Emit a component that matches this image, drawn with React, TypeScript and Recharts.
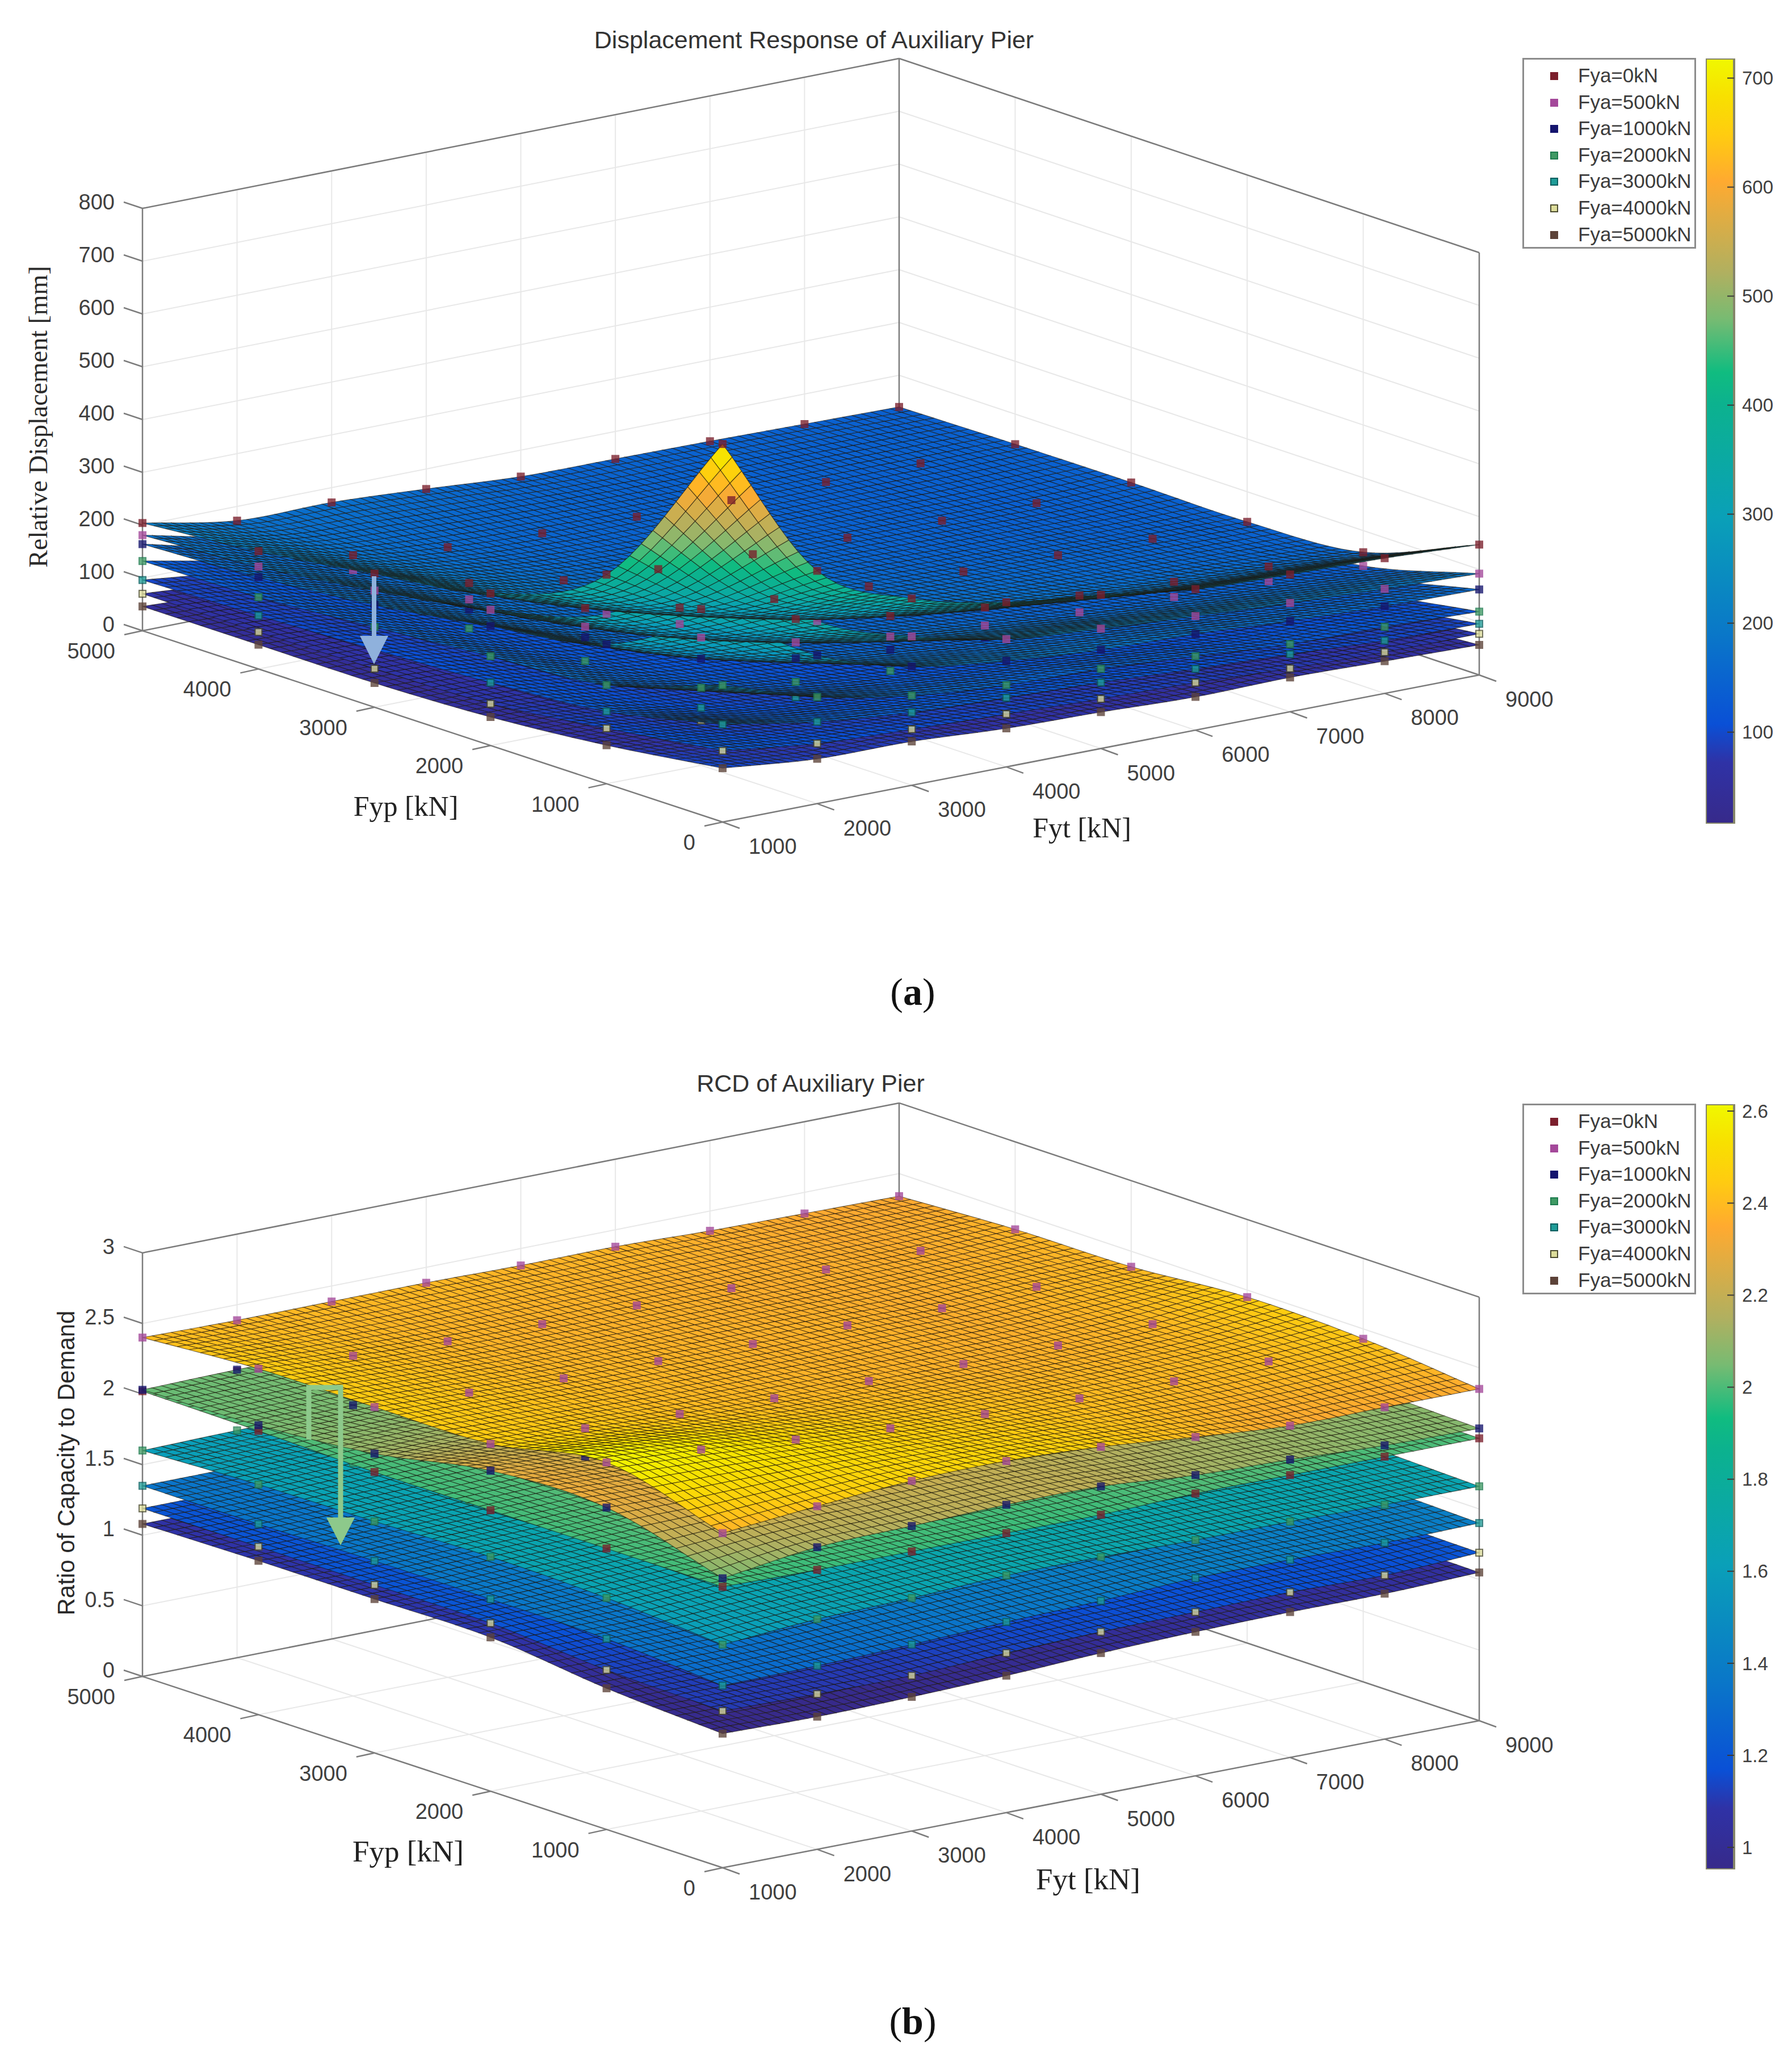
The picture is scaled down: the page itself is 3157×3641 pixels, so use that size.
import React from 'react';
import {
  Bar,
  BarChart,
  Legend,
  ReferenceLine,
  Scatter,
  ScatterChart,
  XAxis,
  YAxis,
} from 'recharts';

// grid of the study
const fytValues = [1000, 2000, 3000, 4000, 5000, 6000, 7000, 8000, 9000];
const fypValues = [0, 1000, 2000, 3000, 4000, 5000];
const fyaLabels = ['Fya=0kN', 'Fya=500kN', 'Fya=1000kN', 'Fya=2000kN', 'Fya=3000kN', 'Fya=4000kN', 'Fya=5000kN'];

// (a) relative displacement [mm], one row per Fyp, one column per Fyt
const dispFya0 = [
  [716, 441, 354, 312, 291, 267, 260, 256, 247],
  [396, 296, 242, 213, 194, 182, 173, 167, 159],
  [288, 225, 191, 172, 161, 154, 150, 146, 143],
  [253, 200, 170, 156, 149, 145, 142, 140, 144],
  [223, 180, 160, 151, 147, 143, 142, 142, 143],
  [204, 173, 172, 162, 150, 148, 146, 143, 140],
];
const dispFya500 = [
  [494, 346, 282, 242, 227, 216, 206, 198, 192],
  [322, 242, 198, 174, 160, 150, 144, 139, 133],
  [257, 190, 160, 144, 135, 128, 124, 122, 118],
  [221, 169, 143, 131, 122, 118, 114, 113, 113],
  [194, 152, 132, 122, 115, 110, 109, 108, 110],
  [181, 143, 128, 117, 110, 107, 106, 106, 107],
];
const dispFya1000 = [
  [389, 281, 225, 201, 187, 182, 172, 165, 162],
  [264, 202, 168, 149, 137, 128, 123, 117, 114],
  [226, 170, 142, 125, 116, 109, 105, 102, 101],
  [194, 150, 126, 114, 105, 100, 96, 94, 95],
  [174, 133, 113, 103, 97, 93, 92, 90, 92],
  [164, 123, 108, 97, 91, 89, 88, 87, 87],
];
const dispFya2000 = [
  [259, 202, 170, 155, 151, 140, 128, 126, 120],
  [187, 147, 123, 109, 101, 95, 91, 89, 87],
  [169, 125, 106, 95, 89, 84, 81, 80, 80],
  [152, 114, 97, 86, 80, 77, 75, 75, 75],
  [136, 105, 90, 80, 76, 73, 72, 71, 73],
  [132, 99, 84, 75, 70, 69, 69, 69, 69],
];
const dispFya3000 = [
  [185, 155, 138, 131, 125, 116, 109, 100, 97],
  [137, 109, 94, 87, 81, 76, 71, 67, 66],
  [119, 95, 81, 75, 70, 66, 63, 62, 62],
  [109, 87, 75, 68, 63, 60, 59, 58, 59],
  [101, 79, 69, 63, 60, 57, 57, 56, 58],
  [96, 77, 66, 60, 57, 56, 56, 57, 57],
];
const dispFya4000 = [
  [135, 114, 106, 100, 94, 90, 82, 78, 78],
  [105, 85, 74, 69, 64, 60, 57, 55, 55],
  [79, 70, 63, 59, 56, 53, 51, 51, 52],
  [73, 65, 57, 53, 49, 47, 47, 47, 48],
  [70, 60, 54, 50, 48, 46, 46, 46, 48],
  [70, 58, 53, 49, 47, 47, 47, 48, 49],
];
const dispFya5000 = [
  [102, 85, 83, 73, 69, 63, 65, 61, 57],
  [73, 65, 58, 54, 50, 47, 45, 43, 42],
  [54, 50, 46, 44, 42, 40, 38, 38, 38],
  [46, 43, 40, 38, 35, 34, 34, 35, 36],
  [46, 40, 38, 35, 35, 33, 35, 36, 38],
  [46, 39, 36, 35, 34, 35, 37, 40, 42],
];

// (b) ratio of capacity to demand
const rcdFya0 = [
  [1.99, 1.98, 1.98, 1.98, 1.98, 2.0, 2.0, 2.0, 2.0],
  [1.99, 2.01, 2.01, 2.01, 2.02, 2.02, 2.02, 2.01, 2.01],
  [1.99, 2.01, 2.02, 2.02, 2.02, 2.02, 2.01, 2.01, 2.0],
  [1.99, 2.01, 2.02, 2.02, 2.02, 2.01, 2.01, 2.0, 2.0],
  [2.01, 2.02, 2.03, 2.02, 2.02, 2.01, 2.01, 2.0, 2.0],
  [2.02, 2.03, 2.03, 2.02, 2.02, 2.01, 2.0, 1.99, 1.99],
];
const rcdFya500 = [
  [2.37, 2.43, 2.48, 2.49, 2.46, 2.4, 2.35, 2.35, 2.35],
  [2.6, 2.56, 2.5, 2.45, 2.42, 2.4, 2.39, 2.4, 2.43],
  [2.46, 2.44, 2.41, 2.39, 2.38, 2.37, 2.37, 2.39, 2.45],
  [2.45, 2.42, 2.39, 2.38, 2.37, 2.37, 2.36, 2.38, 2.39],
  [2.45, 2.41, 2.38, 2.37, 2.37, 2.36, 2.36, 2.36, 2.38],
  [2.4, 2.39, 2.39, 2.39, 2.38, 2.38, 2.36, 2.35, 2.34],
];
const rcdFya1000 = [
  [2.05, 2.14, 2.16, 2.18, 2.18, 2.13, 2.11, 2.08, 2.07],
  [2.28, 2.26, 2.23, 2.21, 2.18, 2.16, 2.13, 2.11, 2.09],
  [2.27, 2.24, 2.2, 2.17, 2.15, 2.13, 2.11, 2.1, 2.09],
  [2.12, 2.13, 2.12, 2.1, 2.1, 2.09, 2.08, 2.07, 2.05],
  [2.05, 2.06, 2.07, 2.06, 2.05, 2.05, 2.04, 2.03, 2.01],
  [2.03, 2.04, 2.04, 2.04, 2.03, 2.02, 2.0, 1.98, 1.96],
];
const rcdFya2000 = [
  [1.58, 1.63, 1.65, 1.68, 1.68, 1.67, 1.67, 1.66, 1.66],
  [1.64, 1.67, 1.69, 1.7, 1.7, 1.7, 1.69, 1.68, 1.68],
  [1.66, 1.68, 1.7, 1.7, 1.7, 1.69, 1.68, 1.68, 1.68],
  [1.64, 1.66, 1.67, 1.67, 1.67, 1.66, 1.66, 1.66, 1.67],
  [1.63, 1.65, 1.65, 1.65, 1.65, 1.64, 1.63, 1.63, 1.63],
  [1.6, 1.61, 1.61, 1.6, 1.6, 1.6, 1.59, 1.59, 1.6],
];
const rcdFya3000 = [
  [1.29, 1.3, 1.32, 1.35, 1.37, 1.4, 1.4, 1.39, 1.4],
  [1.35, 1.35, 1.38, 1.4, 1.41, 1.42, 1.42, 1.42, 1.42],
  [1.36, 1.38, 1.4, 1.41, 1.42, 1.42, 1.42, 1.42, 1.42],
  [1.36, 1.38, 1.39, 1.4, 1.4, 1.4, 1.4, 1.4, 1.41],
  [1.35, 1.36, 1.37, 1.37, 1.37, 1.37, 1.37, 1.37, 1.38],
  [1.35, 1.35, 1.35, 1.35, 1.35, 1.35, 1.35, 1.35, 1.36],
];
const rcdFya4000 = [
  [1.11, 1.1, 1.1, 1.13, 1.15, 1.16, 1.17, 1.16, 1.19],
  [1.13, 1.13, 1.15, 1.17, 1.18, 1.19, 1.2, 1.2, 1.2],
  [1.19, 1.19, 1.2, 1.2, 1.21, 1.21, 1.21, 1.21, 1.21],
  [1.19, 1.19, 1.19, 1.2, 1.2, 1.2, 1.2, 1.2, 1.21],
  [1.19, 1.19, 1.19, 1.19, 1.19, 1.19, 1.19, 1.19, 1.2],
  [1.19, 1.19, 1.19, 1.19, 1.19, 1.19, 1.19, 1.19, 1.2],
];
const rcdFya5000 = [
  [0.95, 0.94, 0.95, 0.97, 1.0, 1.02, 1.03, 1.03, 1.05],
  [1.0, 1.0, 1.02, 1.03, 1.04, 1.05, 1.06, 1.06, 1.06],
  [1.09, 1.08, 1.08, 1.08, 1.08, 1.08, 1.08, 1.08, 1.08],
  [1.09, 1.09, 1.09, 1.09, 1.09, 1.09, 1.09, 1.09, 1.09],
  [1.09, 1.08, 1.08, 1.08, 1.08, 1.08, 1.08, 1.08, 1.09],
  [1.08, 1.08, 1.08, 1.08, 1.07, 1.07, 1.07, 1.07, 1.08],
];

const dispSurfaces = [dispFya0, dispFya500, dispFya1000, dispFya2000, dispFya3000, dispFya4000, dispFya5000];
const rcdSurfaces = [rcdFya0, rcdFya500, rcdFya1000, rcdFya2000, rcdFya3000, rcdFya4000, rcdFya5000];

const dispZTicks = [0, 100, 200, 300, 400, 500, 600, 700, 800];
const rcdZTicks = [0, 0.5, 1, 1.5, 2, 2.5, 3];
const dispBarTicks = [100, 200, 300, 400, 500, 600, 700];
const rcdBarTicks = [1, 1.2, 1.4, 1.6, 1.8, 2, 2.2, 2.4, 2.6];

const mapStops = [0, 0.08, 0.13, 0.25, 0.4, 0.55, 0.59, 0.66, 0.72, 0.84, 0.9, 0.95, 1];
const mapColors = ['#372a8a', '#2f32a6', '#0a50d6', '#0a78c8', '#0aa0b8', '#0cb28e', '#10bc80', '#78bb72', '#b0b060', '#ffaa30', '#ffcc10', '#f8e000', '#f0f800'];

const markerColors = ['#7b1f2c', '#a4489a', '#15156e', '#3f9a64', '#1f9c98', '#dcdc9a', '#5c4238'];
const markerEdges = ['#7b1f2c', '#a4489a', '#15156e', '#1f7c50', '#0a5f60', '#4c4c30', '#5c4238'];

const hexToRgb = (hex: string) => [1, 3, 5].map((i) => parseInt(hex.slice(i, i + 2), 16));

function colorAt(t: number) {
  const f = Math.max(0, Math.min(1, t));
  let i = 0;
  while (i < mapStops.length - 2 && f > mapStops[i + 1]) i++;
  const k = (f - mapStops[i]) / (mapStops[i + 1] - mapStops[i]);
  const a = hexToRgb(mapColors[i]);
  const b = hexToRgb(mapColors[i + 1]);
  return `rgb(${a.map((v, j) => Math.round(v + (b[j] - v) * k)).join(',')})`;
}

// page pixels of the floor corners, same for both panels
const floorLeft = { x: 251, y: 1111 };
const floorFront = { x: 1273, y: 1448 };
const floorRight = { x: 2608, y: 1189 };
const floorBack = { x: 1584, y: 847 };

function project(fyt: number, fyp: number, z: number, zScale: number) {
  const u = (fyt - 1000) / 8000;
  const v = fyp / 5000;
  const x = floorLeft.x + (floorFront.x - floorLeft.x) * (1 - v) + (floorBack.x - floorLeft.x) * u;
  const y =
    (1 - u) * (1 - v) * floorFront.y +
    u * (1 - v) * floorRight.y +
    (1 - u) * v * floorLeft.y +
    u * v * floorBack.y -
    z * zScale;
  return { x, y };
}

const spline = (p0: number, p1: number, p2: number, p3: number, t: number) =>
  0.5 * (2 * p1 + (p2 - p0) * t + (2 * p0 - 5 * p1 + 4 * p2 - p3) * t * t + (3 * p1 - p0 - 3 * p2 + p3) * t * t * t);

// smooth shading inside one patch, the same idea as a monotone curve between points
function shadeSurface(grid: number[][], row: number, col: number, s: number, t: number) {
  const nr = grid.length;
  const nc = grid[0].length;
  const at = (r: number, c: number) => {
    const rr = Math.max(0, Math.min(nr - 1, r));
    const cc = Math.max(0, Math.min(nc - 1, c));
    let val = grid[rr][cc];
    if (c < 0) val = 2 * grid[rr][0] - grid[rr][1];
    if (c > nc - 1) val = 2 * grid[rr][nc - 1] - grid[rr][nc - 2];
    if (r < 0) val = 2 * grid[0][cc] - grid[1][cc];
    if (r > nr - 1) val = 2 * grid[nr - 1][cc] - grid[nr - 2][cc];
    return val;
  };
  const rowVal = (r: number) => spline(at(r, col - 1), at(r, col), at(r, col + 1), at(r, col + 2), t);
  return spline(rowVal(row - 1), rowVal(row), rowVal(row + 1), rowVal(row + 2), s);
}

const MESH = 10;

function buildPatches(grid: number[][], zScale: number, zMin: number, zMax: number) {
  const patches: any[] = [];
  // far corner first so the near patches paint over it
  for (let row = fypValues.length - 2; row >= 0; row--) {
    for (let col = fytValues.length - 2; col >= 0; col--) {
      const anchor = project(fytValues[col], fypValues[row], grid[row][col], zScale);
      const node = (i: number, j: number) => {
        const s = i / MESH;
        const t = j / MESH;
        const fyp = fypValues[row] + s * 1000;
        const fyt = fytValues[col] + t * 1000;
        const z = shadeSurface(grid, row, col, s, t);
        return { ...project(fyt, fyp, z, zScale), z };
      };
      const quads: any[] = [];
      for (let i = MESH - 1; i >= 0; i--) {
        for (let j = MESH - 1; j >= 0; j--) {
          const a = node(i, j);
          const b = node(i + 1, j);
          const c = node(i + 1, j + 1);
          const d = node(i, j + 1);
          quads.push({
            pts: [a, b, c, d],
            color: colorAt(((a.z + b.z + c.z + d.z) / 4 - zMin) / (zMax - zMin)),
          });
        }
      }
      patches.push({ x: anchor.x, y: anchor.y, quads });
    }
  }
  return patches;
}

const PatchShape = (props: any) => {
  const { cx, cy, payload } = props;
  const dx = cx - payload.x;
  const dy = cy - payload.y;
  return (
    <g>
      {payload.quads.map((q: any, i: number) => (
        <polygon
          key={i}
          points={q.pts.map((p: any) => `${(p.x + dx).toFixed(1)},${(p.y + dy).toFixed(1)}`).join(' ')}
          fill={q.color}
          stroke="#1a1408"
          strokeWidth={1.2}
          strokeOpacity={0.6}
        />
      ))}
    </g>
  );
};

const makeMarker = (index: number) => (props: any) => (
  <rect
    x={props.cx - 6}
    y={props.cy - 6}
    width={12}
    height={12}
    fill={markerColors[index]}
    stroke={markerEdges[index]}
    strokeWidth={2}
    opacity={0.78}
  />
);

const TextShape = (props: any) => {
  const { cx, cy, payload: p } = props;
  return (
    <text
      x={cx}
      y={cy}
      textAnchor={p.anchor}
      dominantBaseline="central"
      fontFamily={p.family}
      fontSize={p.size}
      fill={p.fill}
      transform={p.rotate ? `rotate(${p.rotate} ${cx} ${cy})` : undefined}
    >
      {p.text}
    </text>
  );
};

const LegendBox = () => (
  <div
    style={{
      width: 306,
      height: 336,
      boxSizing: 'border-box',
      border: '3px solid #8c8c8c',
      background: '#fff',
      position: 'relative',
      fontFamily: 'Liberation Sans',
      fontSize: 35,
      color: '#3c3c3c',
    }}
  >
    {fyaLabels.map((label, i) => (
      <div key={label} style={{ position: 'absolute', left: 0, top: 5 + i * 46.6, height: 46, lineHeight: '46px' }}>
        <span
          style={{
            position: 'absolute',
            left: 46,
            top: 17,
            width: 10,
            height: 10,
            background: markerColors[i],
            border: `2px solid ${markerEdges[i]}`,
          }}
        />
        <span style={{ position: 'absolute', left: 95, whiteSpace: 'nowrap' }}>{label}</span>
      </div>
    ))}
  </div>
);

const CHART_WIDTH = 3157;

function ColorBar({ id, domain, ticks }: { id: string; domain: number[]; ticks: number[] }) {
  const barData = [{ name: 'range', range: domain }];
  return (
    <div style={{ position: 'absolute', left: 3005, top: 103 }}>
      <BarChart width={150} height={1348} data={barData} margin={{ top: 0, right: 0, bottom: 0, left: 0 }} barCategoryGap={0}>
        <defs>
          <linearGradient id={id} x1="0" y1="1" x2="0" y2="0">
            {mapStops.map((s, i) => (
              <stop key={s} offset={s} stopColor={mapColors[i]} />
            ))}
          </linearGradient>
        </defs>
        <XAxis dataKey="name" hide />
        <YAxis
          orientation="right"
          width={100}
          domain={domain}
          ticks={ticks}
          interval={0}
          axisLine={false}
          tickSize={-12}
          tickMargin={26}
          tickLine={{ stroke: '#3a3a3a', strokeWidth: 2 }}
          tick={{ fontSize: 33, fontFamily: 'Liberation Sans', fill: '#404040' }}
        />
        <Bar dataKey="range" fill={`url(#${id})`} stroke="#85856a" strokeWidth={4} isAnimationActive={false} />
      </BarChart>
    </div>
  );
}

function Panel(props: {
  top: number;
  height: number;
  title: string;
  surfaces: number[][][];
  drawOrder: number[];
  zTicks: number[];
  zScale: number;
  zRange: number[];
  barId: string;
  barDomain: number[];
  barTicks: number[];
  yLabel: string;
  yLabelFamily: string;
  yLabelAt: number[];
  titleAt: number[];
  fypAt: number[];
  fytAt: number[];
  nameSize: number;
  overlay: React.ReactNode;
}) {
  const { zTicks, zScale, surfaces, zRange } = props;
  const zTop = zTicks[zTicks.length - 1];
  const p = (fyt: number, fyp: number, z: number) => project(fyt, fyp, z, zScale);

  const gridLines: any[] = [];
  const boxLines: any[] = [];
  fytValues.forEach((fyt) => {
    gridLines.push([p(fyt, 0, 0), p(fyt, 5000, 0)]);
    gridLines.push([p(fyt, 5000, 0), p(fyt, 5000, zTop)]);
  });
  fypValues.forEach((fyp) => {
    gridLines.push([p(1000, fyp, 0), p(9000, fyp, 0)]);
    gridLines.push([p(9000, fyp, 0), p(9000, fyp, zTop)]);
  });
  zTicks.forEach((z) => {
    gridLines.push([p(1000, 5000, z), p(9000, 5000, z)]);
    gridLines.push([p(9000, 5000, z), p(9000, 0, z)]);
  });
  boxLines.push([p(1000, 5000, 0), p(1000, 5000, zTop)]);
  boxLines.push([p(9000, 5000, 0), p(9000, 5000, zTop)]);
  boxLines.push([p(9000, 0, 0), p(9000, 0, zTop)]);
  boxLines.push([p(1000, 5000, zTop), p(9000, 5000, zTop)]);
  boxLines.push([p(9000, 5000, zTop), p(9000, 0, zTop)]);
  boxLines.push([p(1000, 5000, 0), p(1000, 0, 0)]);
  boxLines.push([p(1000, 0, 0), p(9000, 0, 0)]);
  boxLines.push([p(1000, 5000, 0), p(9000, 5000, 0)]);
  boxLines.push([p(9000, 5000, 0), p(9000, 0, 0)]);
  zTicks.forEach((z) => {
    const a = p(1000, 5000, z);
    boxLines.push([a, { x: a.x - 33, y: a.y - 11 }]);
  });
  fypValues.forEach((fyp) => {
    const a = p(1000, fyp, 0);
    boxLines.push([a, { x: a.x - 32, y: a.y + 7 }]);
  });
  fytValues.forEach((fyt) => {
    const a = p(fyt, 0, 0);
    boxLines.push([a, { x: a.x + 30, y: a.y + 11 }]);
  });

  const tickText = { family: 'Liberation Sans', size: 38, fill: '#404040' };
  const labels: any[] = [];
  zTicks.forEach((z) => {
    const a = p(1000, 5000, z);
    labels.push({ x: a.x - 49, y: a.y - 11, text: String(z), anchor: 'end', ...tickText });
  });
  fypValues.forEach((fyp) => {
    const a = p(1000, fyp, 0);
    labels.push({ x: a.x - 48, y: a.y + 36, text: String(fyp), anchor: 'end', ...tickText });
  });
  fytValues.forEach((fyt) => {
    const a = p(fyt, 0, 0);
    labels.push({ x: a.x + 46, y: a.y + 43, text: String(fyt), anchor: 'start', ...tickText });
  });
  labels.push({ x: props.titleAt[0], y: props.titleAt[1], text: props.title, anchor: 'middle', family: 'Liberation Sans', size: 43, fill: '#333' });
  labels.push({ x: props.fypAt[0], y: props.fypAt[1], text: 'Fyp [kN]', anchor: 'middle', family: 'Liberation Serif', size: props.nameSize, fill: '#222' });
  labels.push({ x: props.fytAt[0], y: props.fytAt[1], text: 'Fyt [kN]', anchor: 'middle', family: 'Liberation Serif', size: props.nameSize, fill: '#222' });
  labels.push({
    x: props.yLabelAt[0],
    y: props.yLabelAt[1],
    text: props.yLabel,
    anchor: 'middle',
    family: props.yLabelFamily,
    size: props.yLabelFamily === 'Liberation Serif' ? 46 : 42,
    fill: '#2a2a2a',
    rotate: -90,
  });

  return (
    <div style={{ position: 'absolute', left: 0, top: props.top, width: CHART_WIDTH, height: props.height }}>
      <ScatterChart width={CHART_WIDTH} height={props.height} margin={{ top: 0, right: 0, bottom: 0, left: 0 }}>
        <XAxis type="number" dataKey="x" domain={[0, CHART_WIDTH]} hide allowDataOverflow />
        <YAxis type="number" dataKey="y" domain={[0, props.height]} reversed hide allowDataOverflow />
        {gridLines.map((seg, i) => (
          <ReferenceLine key={`g${i}`} segment={seg} stroke="#e8e8e8" strokeWidth={2} ifOverflow="visible" />
        ))}
        {boxLines.map((seg, i) => (
          <ReferenceLine key={`b${i}`} segment={seg} stroke="#7c7c7c" strokeWidth={2.5} ifOverflow="visible" />
        ))}
        {/* lowest surface first; each surface paints over the markers of the ones below it */}
        {props.drawOrder.flatMap((index) => {
          const points: any[] = [];
          fypValues.forEach((fyp, r) =>
            fytValues.forEach((fyt, c) => points.push(p(fyt, fyp, surfaces[index][r][c])))
          );
          return [
            <Scatter
              key={`s${index}`}
              data={buildPatches(surfaces[index], zScale, zRange[0], zRange[1])}
              shape={PatchShape}
              legendType="none"
              isAnimationActive={false}
            />,
            <Scatter
              key={`m${index}`}
              name={fyaLabels[index]}
              data={points}
              shape={makeMarker(index)}
              fill={markerColors[index]}
              isAnimationActive={false}
            />,
          ];
        })}
        <Scatter data={labels} shape={TextShape} legendType="none" isAnimationActive={false} />
        <Legend
          layout="horizontal"
          align="center"
          verticalAlign="middle"
          content={LegendBox}
          wrapperStyle={{ left: 2682, top: 102, width: 306, height: 336, bottom: 'auto', right: 'auto' }}
        />
      </ScatterChart>
      <ColorBar id={props.barId} domain={props.barDomain} ticks={props.barTicks} />
      <svg width={CHART_WIDTH} height={props.height} style={{ position: 'absolute', left: 0, top: 0, pointerEvents: 'none' }}>
        {props.overlay}
      </svg>
    </div>
  );
}

const captionStyle = { fontFamily: 'Liberation Serif', fontSize: 68, fill: '#111' };

export default function App() {
  return (
    <div style={{ position: 'absolute', left: 0, top: 0, width: 3157, height: 3641, background: '#fff' }}>
      <Panel
        top={0}
        height={1842}
        title="Displacement Response of Auxiliary Pier"
        surfaces={dispSurfaces}
        drawOrder={[6, 5, 4, 3, 2, 1, 0]}
        zTicks={dispZTicks}
        zScale={0.93}
        zRange={[16, 718]}
        barId="bar-a"
        barDomain={[16, 718]}
        barTicks={dispBarTicks}
        yLabel="Relative Displacement [mm]"
        yLabelFamily="Liberation Serif"
        yLabelAt={[67, 734]}
        titleAt={[1434, 70]}
        fypAt={[715, 1420]}
        fytAt={[1906, 1458]}
        nameSize={50}
        overlay={
          <g>
            <rect x={655} y={1015} width={8} height={105} fill="#8fb1dc" />
            <polygon points="634,1120 684,1120 659,1170" fill="#8fb1dc" />
            <text x={1608} y={1747} textAnchor="middle" dominantBaseline="central" {...captionStyle}>
              (<tspan fontWeight="bold">a</tspan>)
            </text>
          </g>
        }
      />
      <Panel
        top={1842}
        height={1799}
        title="RCD of Auxiliary Pier"
        surfaces={rcdSurfaces}
        drawOrder={[6, 5, 4, 3, 0, 2, 1]}
        zTicks={rcdZTicks}
        zScale={248.7}
        zRange={[0.952, 2.615]}
        barId="bar-b"
        barDomain={[0.952, 2.615]}
        barTicks={rcdBarTicks}
        yLabel="Ratio of Capacity to Demand"
        yLabelFamily="Liberation Sans"
        yLabelAt={[116, 735]}
        titleAt={[1428, 66]}
        fypAt={[719, 1419]}
        fytAt={[1917, 1468]}
        nameSize={53}
        overlay={
          <g>
            <polyline points="544,694 544,602 600,602 600,831" fill="none" stroke="#8dc98b" strokeWidth={9} />
            <polygon points="575,831 625,831 600,880" fill="#8dc98b" />
            <text x={1608} y={1718} textAnchor="middle" dominantBaseline="central" {...captionStyle}>
              (<tspan fontWeight="bold">b</tspan>)
            </text>
          </g>
        }
      />
    </div>
  );
}
